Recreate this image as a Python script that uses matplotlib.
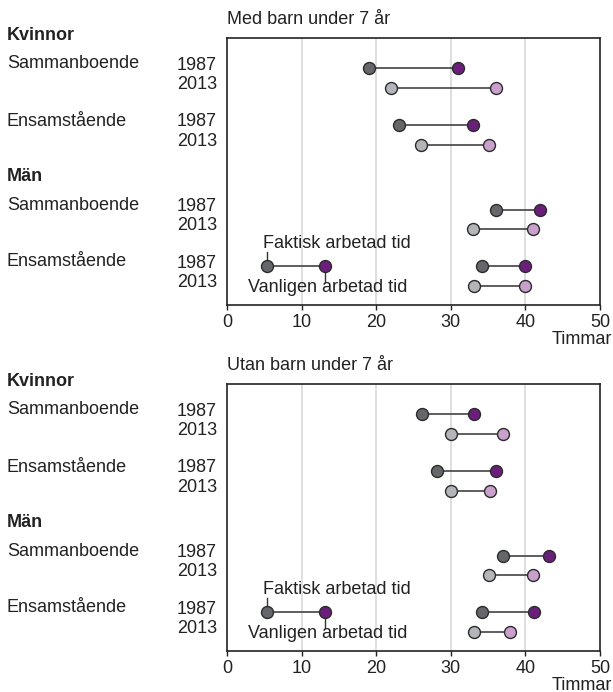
import matplotlib.pyplot as plt
import matplotlib.transforms as mtransforms

plt.rcParams['font.family'] = ['Liberation Sans', 'DejaVu Sans']

# Faktisk (actual) and vanligen (usual) weekly hours, order:
# Kvinnor sammanboende 1987/2013, Kvinnor ensamstående 1987/2013,
# Män sammanboende 1987/2013, Män ensamstående 1987/2013
years = ['1987', '2013'] * 4
panels = ['Med barn under 7 år', 'Utan barn under 7 år']
faktisk_med = [19, 22, 23, 26, 36, 33, 34.2, 33.1]
vanligen_med = [31, 36, 33, 35.1, 42, 41, 40, 40]
faktisk_utan = [26.1, 30, 28.1, 30, 37, 35.1, 34.2, 33.1]
vanligen_utan = [33.1, 37, 36.1, 35.2, 43.1, 41, 41.1, 38]
legend_faktisk = 5.4
legend_vanligen = 13.1

groups = ['Kvinnor', 'Män']
subgroups = ['Sammanboende', 'Ensamstående']

# row positions in pixel-like units from the top of each panel
rows = [30, 49.5, 87, 106.5, 171.5, 190.5, 228, 247.5]
dark_grey = '#66676b'
purple = '#6b1f7b'
light_grey = '#b3b5b8'
light_purple = '#c8a0cb'

fig = plt.figure(figsize=(6.13, 6.92), dpi=100)
ax_top = fig.add_axes([227 / 613, 1 - 305 / 692, 373 / 613, 267 / 692])
ax_bot = fig.add_axes([227 / 613, 1 - 651 / 692, 373 / 613, 267 / 692])

data = [(ax_top, faktisk_med, vanligen_med), (ax_bot, faktisk_utan, vanligen_utan)]

for (ax, fakt, vanl), title in zip(data, panels):
    ax.set_xlim(0, 50)
    ax.set_ylim(267, 0)
    for x in [10, 20, 30, 40]:
        ax.axvline(x, color='#d9d9d9', lw=1.2, zorder=0)

    for i, y in enumerate(rows):
        c1 = dark_grey if i % 2 == 0 else light_grey
        c2 = purple if i % 2 == 0 else light_purple
        ax.plot([fakt[i], vanl[i]], [y, y], color='#333333', lw=1.1, zorder=2)
        ax.plot(fakt[i], y, 'o', ms=8.6, mfc=c1, mec='#2b2b2b', mew=1, zorder=3)
        ax.plot(vanl[i], y, 'o', ms=8.6, mfc=c2, mec='#2b2b2b', mew=1, zorder=3)

    # legend callout on the Män ensamstående 1987 row
    ly = rows[6]
    ax.plot([legend_faktisk, legend_vanligen], [ly, ly], color='#333333', lw=1.1, zorder=2)
    ax.plot(legend_faktisk, ly, 'o', ms=8.6, mfc=dark_grey, mec='#2b2b2b', mew=1, zorder=3)
    ax.plot(legend_vanligen, ly, 'o', ms=8.6, mfc=purple, mec='#2b2b2b', mew=1, zorder=3)
    ax.plot([legend_faktisk, legend_faktisk], [ly, ly - 14], color='#333333', lw=1, zorder=1)
    ax.plot([legend_vanligen, legend_vanligen], [ly, ly + 16], color='#333333', lw=1, zorder=1)
    ax.text(legend_faktisk - 0.6, ly - 22, 'Faktisk arbetad tid', fontsize=13,
            ha='left', va='center', color='#222222')
    ax.text(legend_faktisk - 2.6, ly + 21, 'Vanligen arbetad tid', fontsize=13,
            ha='left', va='center', color='#222222')

    ax.set_yticks([])
    ax.set_xticks([0, 10, 20, 30, 40, 50])
    ax.tick_params(axis='x', length=3.6, width=1, pad=3, labelsize=13, colors='#222222')
    for s in ax.spines.values():
        s.set_linewidth(1.2)
        s.set_color('#222222')

    ax.text(0, 1 + 18 / 267, title, transform=ax.transAxes, fontsize=13,
            ha='left', va='center', color='#222222')
    ax.text(1.032, -34 / 267, 'Timmar', transform=ax.transAxes, fontsize=13,
            ha='right', va='center', color='#222222')

    # row labels on the left
    trans = mtransforms.blended_transform_factory(fig.transFigure, ax.transData)
    for gi, g in enumerate(groups):
        gy = [-2, 138.5][gi]
        ax.text(7 / 613, gy, g, transform=trans, fontsize=13, fontweight='bold',
                ha='left', va='center', color='#222222', clip_on=False)
        for si, sg in enumerate(subgroups):
            idx = gi * 4 + si * 2
            ax.text(7 / 613, rows[idx] - 4, sg, transform=trans, fontsize=13,
                    ha='left', va='center', color='#222222', clip_on=False)
    for i, y in enumerate(rows):
        ax.text(217 / 613, y - 3, years[i], transform=trans, fontsize=13,
                ha='right', va='center', color='#222222', clip_on=False)

fig.savefig('out.png', dpi=100)
